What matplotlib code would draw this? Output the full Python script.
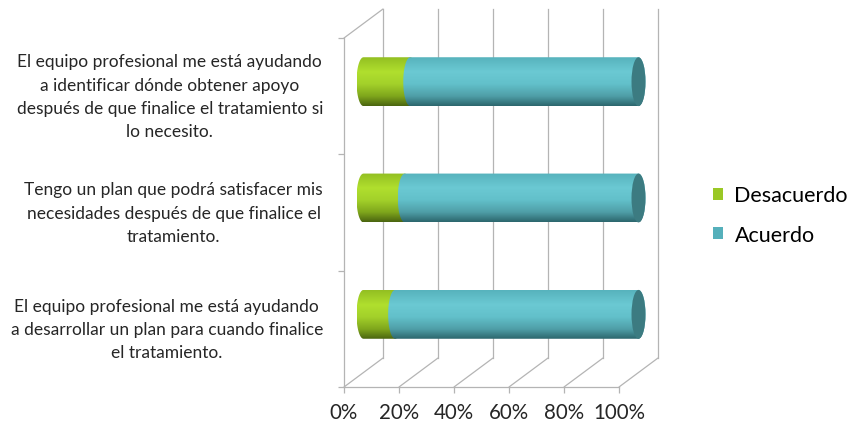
import numpy as np
import matplotlib
matplotlib.use("Agg")
import matplotlib.pyplot as plt
from matplotlib.colors import LinearSegmentedColormap
from matplotlib.patches import PathPatch, Ellipse, Patch, ConnectionPatch
from matplotlib.path import Path
from matplotlib.transforms import ScaledTranslation

plt.rcParams['font.family'] = ['Lato', 'DejaVu Sans']

# datos (de abajo hacia arriba)
preguntas = [
    "El equipo profesional me está ayudando\na desarrollar un plan para cuando finalice\nel tratamiento.",
    "Tengo un plan que podrá satisfacer mis\nnecesidades después de que finalice el\ntratamiento.",
    "El equipo profesional me está ayudando\na identificar dónde obtener apoyo\ndespués de que finalice el tratamiento si\nlo necesito.",
]
desacuerdo = [11.5, 15, 17]
acuerdo = [88.5, 85, 83]
series = ["Desacuerdo", "Acuerdo"]
ticks = [0, 20, 40, 60, 80, 100]

verde = ["#93bf22", "#b0df2e", "#a3d12a", "#7fa61c", "#4b6510"]
turquesa = ["#57b3bd", "#6bc9d3", "#62c0ca", "#4f9ea7", "#2c666d"]
tapa = "#3c7b81"
gris = "#b4b4b4"

fig = plt.figure(figsize=(8.52, 4.31), dpi=100)
ax = fig.add_axes([363.5 / 852, 57.5 / 431, 275 / 852, 349 / 431])
ax.set_xlim(0, 100)
ax.set_ylim(-0.5, 2.5)
ax.set_autoscale_on(False)
ax.axis('off')

dx, dy = 19.5 / 100, 14.5 / 100
front = ax.transData + ScaledTranslation(-dx, -dy, fig.dpi_scale_trans)
back = ax.transData + ScaledTranslation(dx, dy, fig.dpi_scale_trans)

# pared del fondo y piso
for t in ticks:
    ax.plot([t, t], [-0.5, 2.5], color=gris, lw=0.9, transform=back, zorder=1, clip_on=False)
    ax.add_artist(ConnectionPatch((t, -0.5), (t, -0.5), coordsA=front, coordsB=back,
                                  color=gris, lw=0.9, zorder=1, clip_on=False))
ax.add_artist(ConnectionPatch((0, 2.5), (0, 2.5), coordsA=front, coordsB=back,
                              color=gris, lw=0.9, zorder=1, clip_on=False))
ax.plot([0, 0], [-0.5, 2.5], color=gris, lw=0.9, transform=front, zorder=1, clip_on=False)
ax.plot([0, 100], [-0.5, -0.5], color=gris, lw=0.9, transform=front, zorder=1, clip_on=False)
ax.plot([0] * 4, [-0.5, 0.5, 1.5, 2.5], ls='none', marker=0, ms=4, mew=0.9,
        color=gris, transform=front, clip_on=False)
ax.plot(ticks, [-0.5] * len(ticks), ls='none', marker=3, ms=4, mew=0.9,
        color=gris, transform=front, clip_on=False)

for t in ticks:
    ax.text(t, -0.5, f"{t}%", transform=front + ScaledTranslation(0, -0.15, fig.dpi_scale_trans),
            ha='center', va='top', fontsize=14.8, color='#262626')
for i, q in enumerate(preguntas):
    ax.text(0, i, q, transform=front + ScaledTranslation(-0.21, 0, fig.dpi_scale_trans),
            ha='right', va='center', multialignment='center', fontsize=12.5,
            linespacing=1.55, color='#262626')

# cilindros
h = 0.42
rx = 7 / 275 * 100
grad = np.linspace(0, 1, 200).reshape(-1, 1)


def cilindro(x0, x1, yc, colores, z):
    y0, y1 = yc - h / 2, yc + h / 2
    a = np.linspace(np.pi / 2, 3 * np.pi / 2, 30)
    izq = np.column_stack([x0 + rx * np.cos(a), yc + h / 2 * np.sin(a)])
    b = np.linspace(-np.pi / 2, np.pi / 2, 30)
    der = np.column_stack([x1 + rx * np.cos(b), yc + h / 2 * np.sin(b)])
    pts = np.vstack([izq, der, izq[:1]])
    patch = PathPatch(Path(pts), fc='none', ec='none', zorder=z, clip_on=False)
    ax.add_patch(patch)
    cmap = LinearSegmentedColormap.from_list("c", list(zip([0, 0.3, 0.55, 0.8, 1.0], colores)))
    im = ax.imshow(grad, extent=(x0 - rx, x1 + rx, y0, y1), cmap=cmap, aspect='auto',
                   origin='upper', zorder=z, interpolation='bilinear')
    im.set_clip_path(patch)
    im.set_clip_box(fig.bbox)


for i in range(len(preguntas)):
    cilindro(0, desacuerdo[i], i, verde, 3)
    cilindro(desacuerdo[i], desacuerdo[i] + acuerdo[i], i, turquesa, 4)
    ax.add_patch(Ellipse((desacuerdo[i] + acuerdo[i], i), 2 * rx, h, fc=tapa, ec='none',
                         zorder=5, clip_on=False))

ax.set_xlim(0, 100)
ax.set_ylim(-0.5, 2.5)

handles = [Patch(fc="#9ac825"), Patch(fc="#55b0bb")]
fig.legend(handles, series, loc='center left', bbox_to_anchor=(694 / 852, 1 - 216 / 431),
           frameon=False, fontsize=15.5, handlelength=0.46, handleheight=0.46,
           handletextpad=0.52, labelspacing=0.9)

fig.savefig("out.png", dpi=100)
